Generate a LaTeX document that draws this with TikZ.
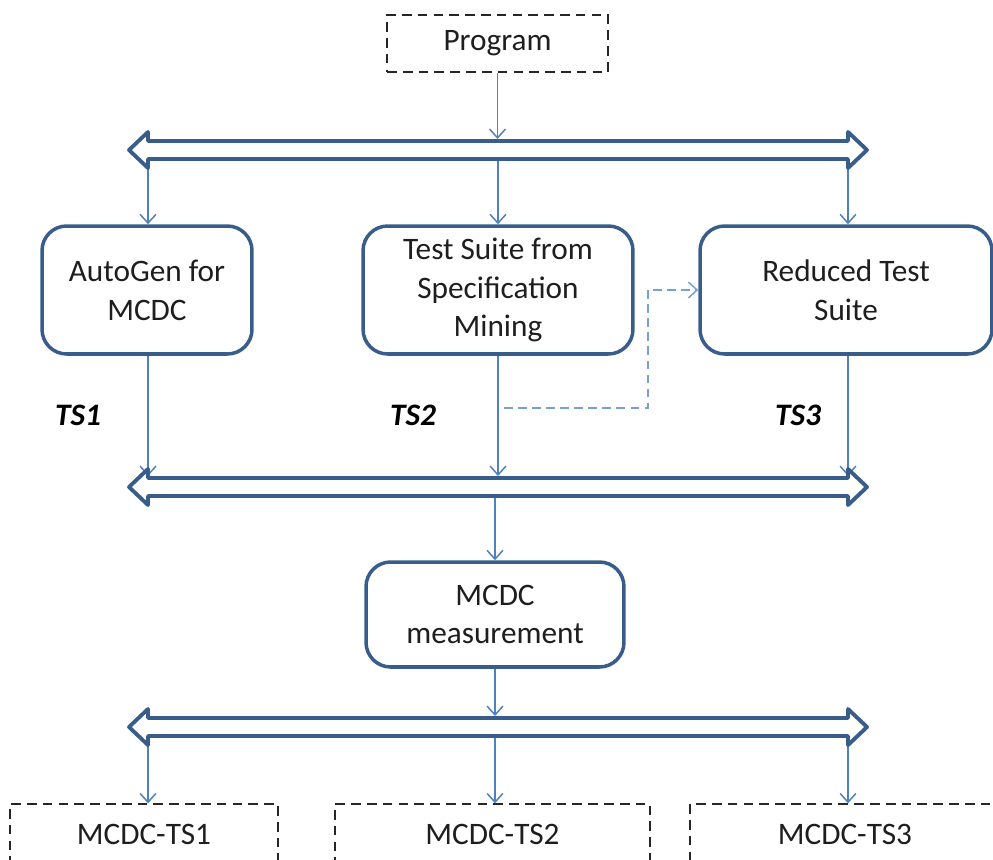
\documentclass[tikz,border=0pt]{standalone}
\usepackage{fontspec}
\setmainfont{Carlito}
\usetikzlibrary{arrows.meta,positioning}
\definecolor{boxblue}{RGB}{56,93,138}
\definecolor{linkblue}{RGB}{79,129,189}
\definecolor{dashblue}{RGB}{120,160,215}
\definecolor{txtgray}{RGB}{30,30,30}

% wide double arrow across the page, #1 = y of its middle
\newcommand{\busline}[1]{%
  \draw[bus] (129,#1) -- (148,{#1-18}) -- (148,{#1-9}) -- (848,{#1-9})
    -- (848,{#1-18}) -- (867,#1) -- (848,{#1+18}) -- (848,{#1+9})
    -- (148,{#1+9}) -- (148,{#1+18}) -- cycle;}

\begin{document}
\begin{tikzpicture}[x=0.02cm,y=-0.02cm,
  font=\fontsize{17.8}{22.1}\selectfont, text=txtgray,
  block/.style={draw=boxblue,line width=2pt,rounded corners=14pt,
    align=center,minimum height=2.56cm},
  io/.style={draw=black!85,line width=0.8pt,dash pattern=on 5.5pt off 3.5pt,
    minimum height=1.2cm},
  bus/.style={draw=boxblue,line width=2.2pt,fill=white,line join=round},
  link/.style={draw=linkblue,line width=0.85pt,-{Straight Barb[length=5pt,width=9pt]}},
  dlink/.style={link,draw=dashblue,dash pattern=on 5pt off 3pt},
  tslabel/.style={font=\fontsize{17.8}{22.1}\selectfont\bfseries\itshape,text=black}]
 \clip (0,0) rectangle (993,859);

 \node[io,minimum width=4.42cm,minimum height=1.14cm] (program) at (497.5,43.5) {Program};

 \node[block,minimum width=4.2cm] (autogen) at (147,290) {AutoGen for\\MCDC};
 \node[block,minimum width=5.4cm] (spec) at (498,290) {Test Suite from\\Specification\\Mining};
 \node[block,minimum width=5.84cm] (reduced) at (846,290) {Reduced Test\\Suite};

 \node[tslabel] (ts1) at (78,415) {TS1};
 \node[tslabel] (ts2) at (413,415) {TS2};
 \node[tslabel] (ts3) at (798,415) {TS3};

 \node[block,minimum width=5.16cm,minimum height=2.1cm] (measure) at (495,614.5) {MCDC\\measurement};

 \node[io,minimum width=5.36cm] (mts1) at (144,834) {MCDC-TS1};
 \node[io,minimum width=6.3cm] (mts2) at (492.5,834) {MCDC-TS2};
 \node[io,minimum width=6.2cm] (mts3) at (845,834) {MCDC-TS3};

 % top and bottom edges of the three buses
 \coordinate (b1 top) at (0,139);  \coordinate (b1 bot) at (0,160);
 \coordinate (b2 top) at (0,476);  \coordinate (b2 bot) at (0,497);
 \coordinate (b3 top) at (0,716);  \coordinate (b3 bot) at (0,737);
 \coordinate (turn) at (648,408);

 % into the first bus and out of it
 \draw[link] (program) -- (program |- b1 top);
 \draw[link] (148,150) -- (autogen.north -| 148,0);
 \draw[link] (spec |- b1 bot) -- (spec.north);
 \draw[link] (848,150) -- (reduced.north -| 848,0);

 % test suites into the second bus
 \draw[link] (autogen.south -| 148,0) -- (148,476);
 \draw[link] (spec.south) -- (spec |- b2 top);
 \draw[link] (reduced.south -| 848,0) -- (848,476);
 \draw[dlink] (spec |- turn) ++(6,0) -- (turn) |- (reduced.west);

 % measurement
 \draw[link] (measure |- b2 bot) -- (measure.north);
 \draw[link] (measure.south) -- (measure |- b3 top);
 \draw[link] (148,727) -- (mts1.north -| 148,0);
 \draw[link] (measure |- b3 bot) -- (mts2.north -| measure);
 \draw[link] (848,727) -- (mts3.north -| 848,0);

 \busline{150}
 \busline{487}
 \busline{727}
\end{tikzpicture}
\end{document}
